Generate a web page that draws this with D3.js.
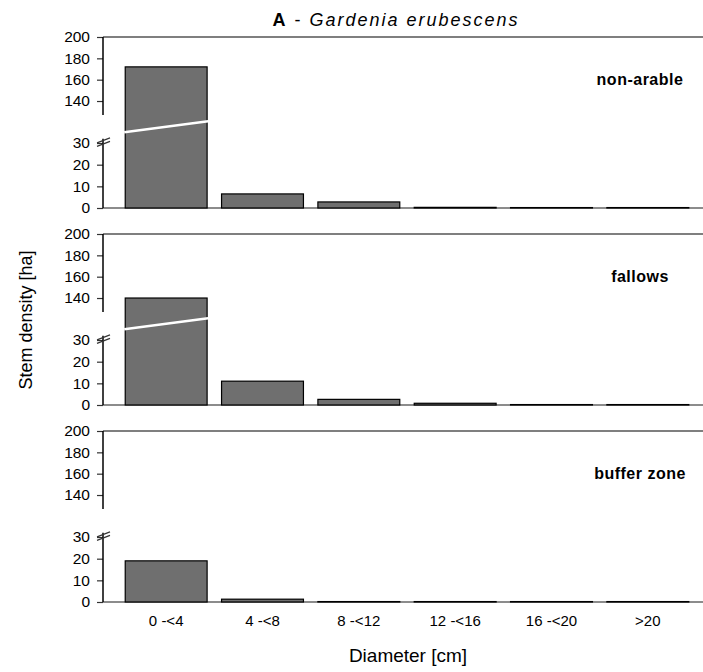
<!DOCTYPE html>
<html>
<head>
<meta charset="utf-8">
<script src="https://cdn.jsdelivr.net/npm/d3@7"></script>
<style>
  body { margin: 0; background: #fff; }
  svg { display: block; font-family: "Liberation Sans", Arial, sans-serif; }
</style>
</head>
<body>
<svg id="chart" width="703" height="672"></svg>
<script>
// Diameter classes and stem density (per ha) for each land-use type
const categories = ["0 -<4", "4 -<8", "8 -<12", "12 -<16", "16 -<20", ">20"];
const panelNames = ["non-arable", "fallows", "buffer zone"];
const nonArable = [172, 6.5, 2.8, 0.3, 0.2, 0.2];
const fallows = [140, 11, 2.6, 0.8, 0.2, 0.2];
const bufferZone = [19, 1.3, 0.2, 0.2, 0.2, 0.2];
const yTicks = [0, 10, 20, 30, 140, 160, 180, 200];

const series = [nonArable, fallows, bufferZone];

const svg = d3.select("#chart"),
      margin = {top: 37, left: 103},
      panelH = 171,
      panelStep = 197,
      plotW = 600;

// broken y axis: 0-35 below the break, 121-200 above
const breakLow = 35, breakHigh = 121;
const y = d3.scaleLinear()
            .domain([0, breakLow, breakHigh, 200])
            .range([panelH, panelH - 75.8, 84.3, 0]);

const x = d3.scaleBand()
            .domain(categories)
            .range([15, 593])
            .paddingInner(0.15)
            .paddingOuter(0.075);

series.forEach((vals, i) => {
  const g = svg.append("g")
               .attr("transform", `translate(${margin.left},${margin.top + i * panelStep})`);

  // top frame line
  g.append("line")
   .attr("x1", 0).attr("x2", plotW)
   .attr("y1", 0).attr("y2", 0)
   .attr("stroke", "#555").attr("stroke-width", 1.5);

  // baseline
  g.append("line")
   .attr("x1", 0).attr("x2", plotW)
   .attr("y1", y(0)).attr("y2", y(0))
   .attr("stroke", "#666").attr("stroke-width", 1.5);

  // bars
  g.selectAll("rect.bar")
   .data(vals)
   .enter().append("rect")
     .attr("class", "bar")
     .attr("x", (d, j) => x(categories[j]))
     .attr("y", d => y(d))
     .attr("width", x.bandwidth())
     .attr("height", d => y(0) - y(d))
     .attr("fill", "#6f6f6f")
     .attr("stroke", "#000")
     .attr("stroke-width", 1.2);

  // white break line across bars that cross the gap
  g.selectAll("line.cut")
   .data(vals.map((d, j) => ({d, c: categories[j]})).filter(o => o.d > breakHigh))
   .enter().append("line")
     .attr("class", "cut")
     .attr("x1", o => x(o.c) - 1)
     .attr("x2", o => x(o.c) + x.bandwidth() + 1)
     .attr("y1", y(breakLow))
     .attr("y2", y(breakHigh))
     .attr("stroke", "#fff")
     .attr("stroke-width", 2.5);

  // y axis in two pieces
  const axis = d3.axisLeft(y).tickValues(yTicks).tickSize(6).tickPadding(7);
  const ax = g.append("g").call(axis);
  ax.select(".domain").remove();
  ax.selectAll("line").attr("stroke", "#333").attr("stroke-width", 1.2);
  ax.selectAll("text")
    .style("font-size", "15.5px")
    .attr("fill", "#000");

  g.append("line")
   .attr("x1", 0).attr("x2", 0)
   .attr("y1", y(200)).attr("y2", y(127))
   .attr("stroke", "#000").attr("stroke-width", 1.5);
  g.append("line")
   .attr("x1", 0).attr("x2", 0)
   .attr("y1", y(32)).attr("y2", y(0))
   .attr("stroke", "#000").attr("stroke-width", 1.5);

  // break marks
  [0, 3.5].forEach(off => {
    g.append("line")
     .attr("x1", -6).attr("x2", 7)
     .attr("y1", y(31) + 2 + off).attr("y2", y(31) - 3 + off)
     .attr("stroke", "#333").attr("stroke-width", 1.1);
  });

  // panel label
  g.append("text")
   .attr("x", 537)
   .attr("y", 48)
   .attr("text-anchor", "middle")
   .style("font-size", "16px")
   .style("font-weight", "bold")
   .style("letter-spacing", "0.5px")
   .attr("fill", "#000")
   .text(panelNames[i]);

  // category labels only under the last panel
  if (i === series.length - 1) {
    const xa = g.append("g")
                .attr("transform", `translate(0,${panelH})`)
                .call(d3.axisBottom(x).tickSize(0).tickPadding(13));
    xa.select(".domain").remove();
    xa.selectAll("text")
      .style("font-size", "15px")
      .attr("fill", "#000");
  }
});

// title
const title = svg.append("text")
                 .attr("x", 396)
                 .attr("y", 26)
                 .attr("text-anchor", "middle")
                 .style("font-size", "18px")
                 .style("letter-spacing", "2px")
                 .attr("fill", "#000");
title.append("tspan").style("font-weight", "bold").text("A");
title.append("tspan").text(" - ");
title.append("tspan").style("font-style", "italic").text("Gardenia erubescens");

// axis titles
svg.append("text")
   .attr("transform", "translate(32,320) rotate(-90)")
   .attr("text-anchor", "middle")
   .style("font-size", "18px")
   .attr("fill", "#000")
   .text("Stem density [ha]");

svg.append("text")
   .attr("x", 408)
   .attr("y", 662)
   .attr("text-anchor", "middle")
   .style("font-size", "19px")
   .attr("fill", "#000")
   .text("Diameter [cm]");
</script>
</body>
</html>
